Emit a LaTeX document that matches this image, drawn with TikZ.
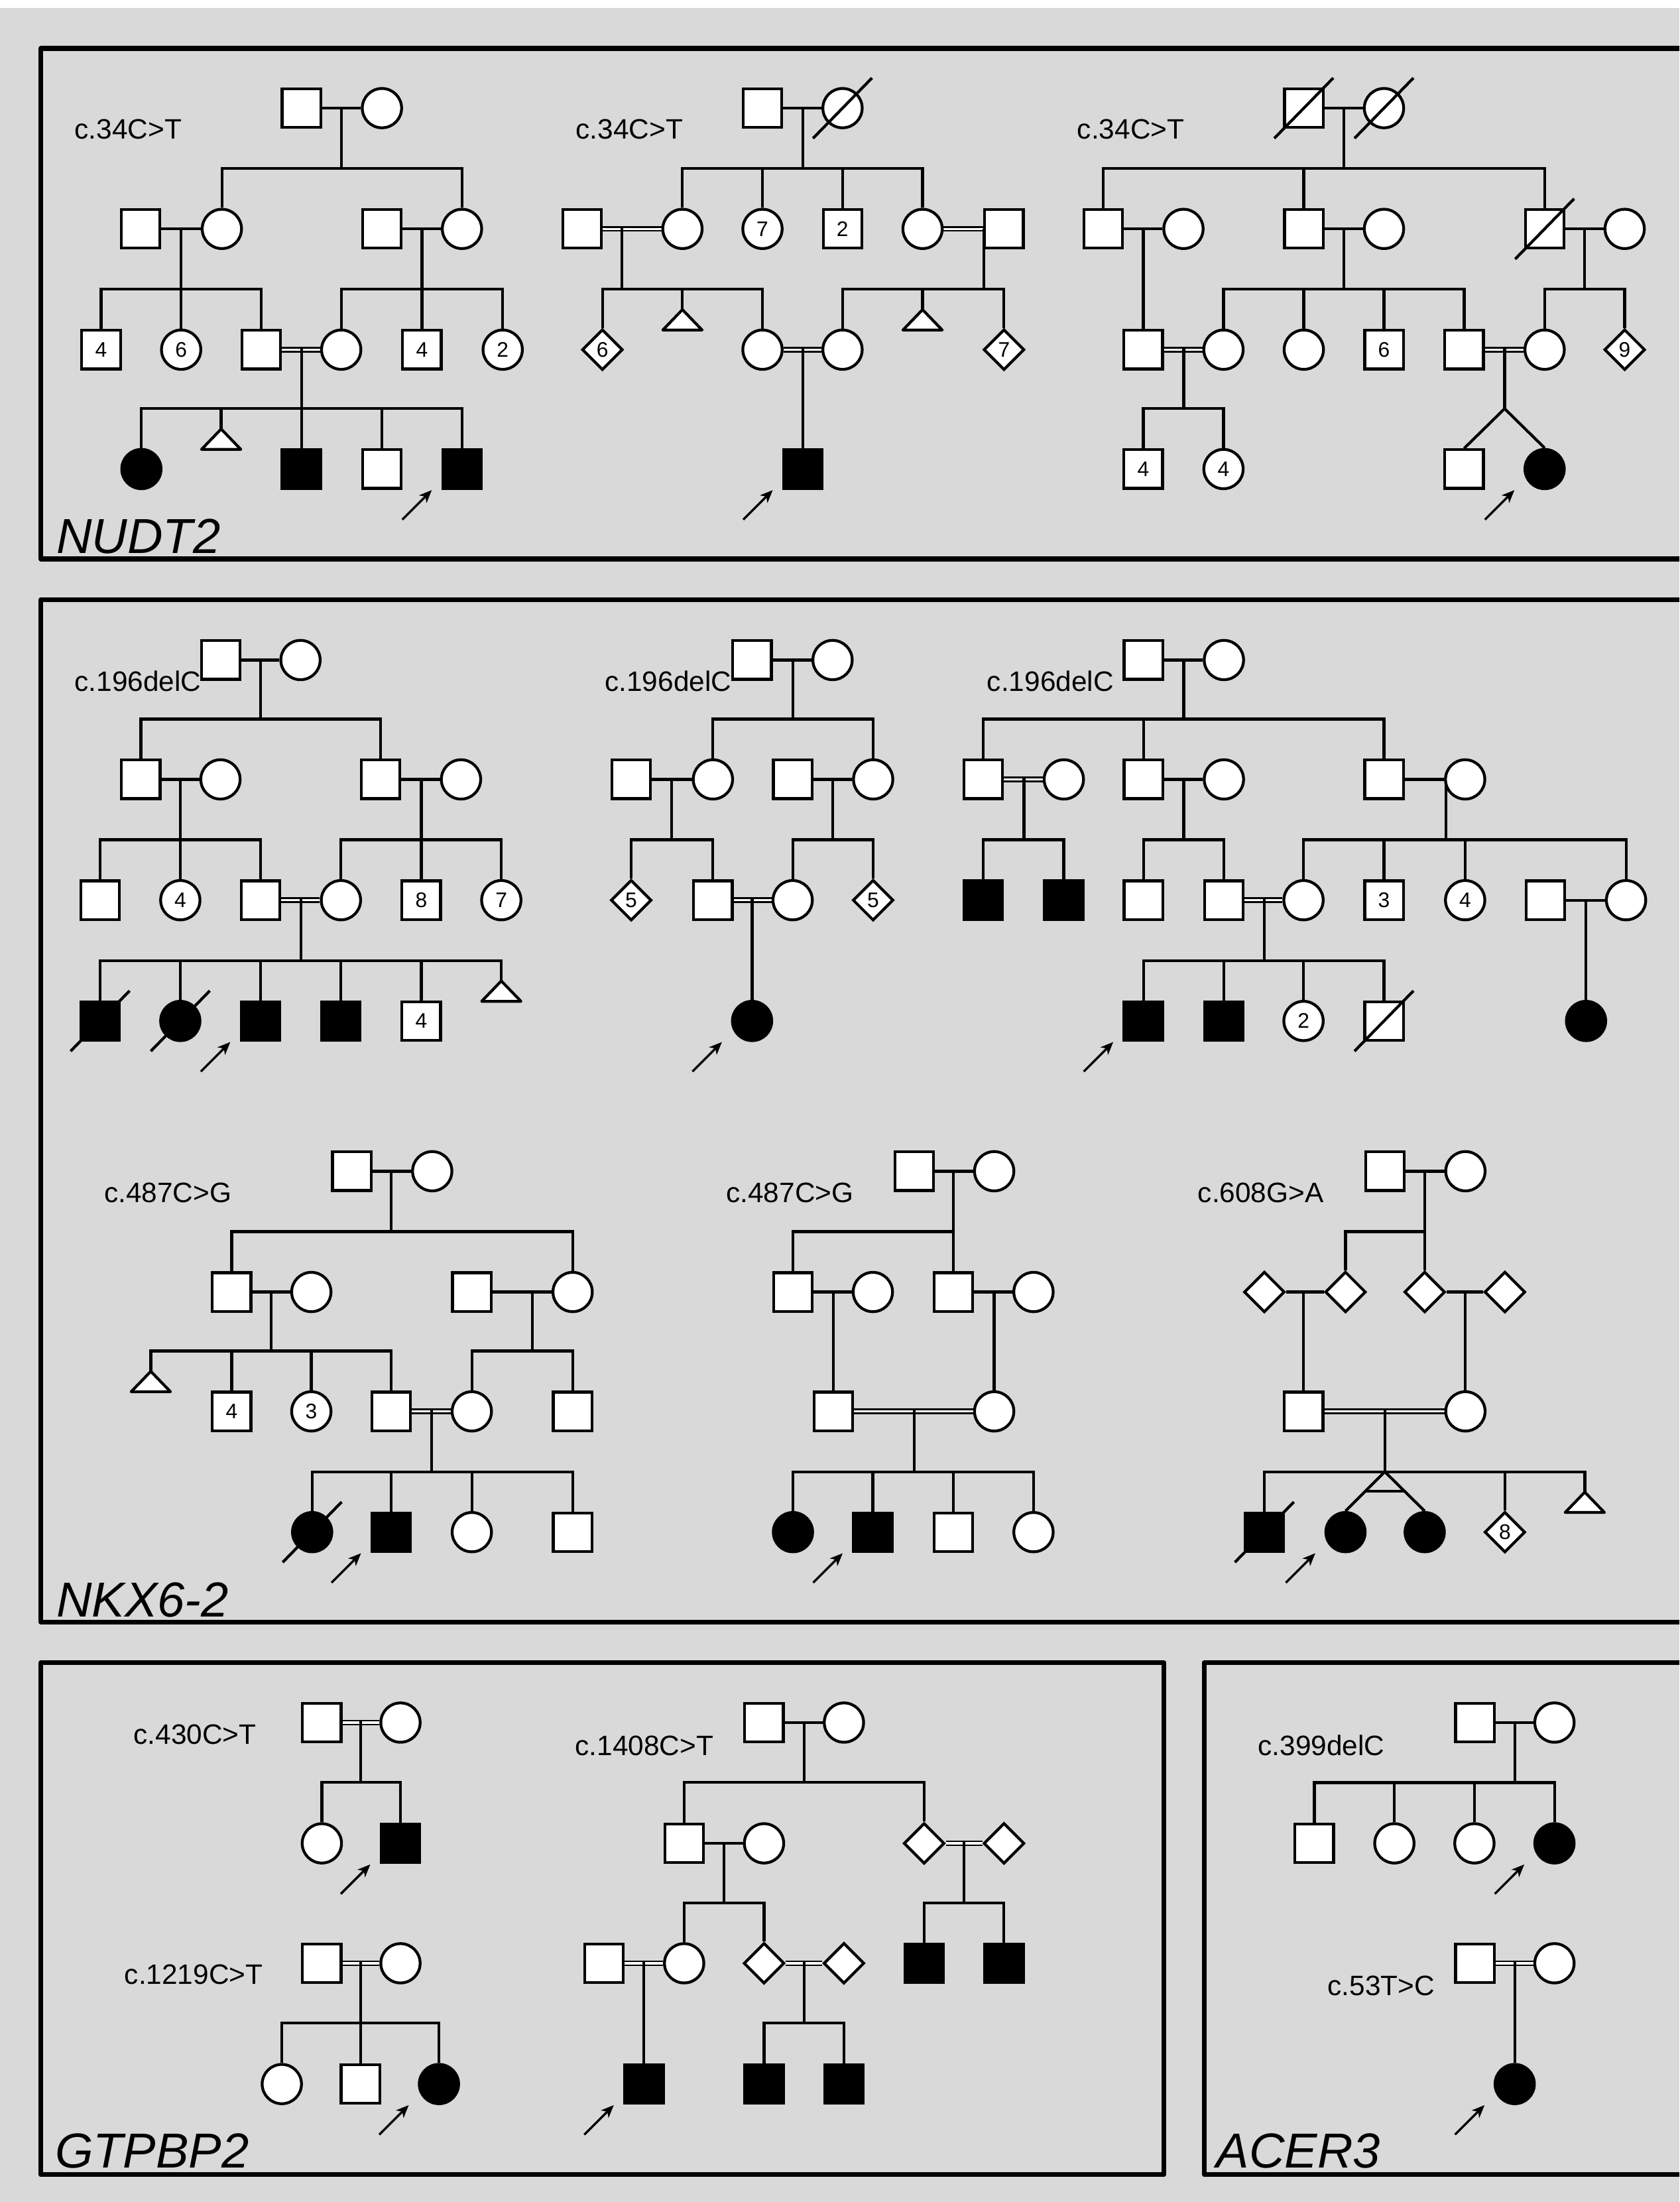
\documentclass[tikz,border=0pt]{standalone}
\usepackage{fontspec}
\setmainfont{Liberation Sans}
\usetikzlibrary{calc,arrows.meta,shapes.geometric}
\pgfdeclarelayer{back}
\pgfdeclarelayer{bg}
\pgfsetlayers{back,bg,main}
\definecolor{panelgray}{RGB}{217,217,217}
\tikzset{
  pl/.style={line width=2.0pt},
  ind/.style={draw, line width=2.0pt, fill=white, inner sep=0pt, font=\fontsize{15}{17}\selectfont},
  sq/.style={ind, rectangle, minimum size=27.5pt},
  ci/.style={ind, circle, minimum size=28pt},
  di/.style={ind, diamond, minimum size=29pt},
  aff/.style={fill=black},
  dbl/.style={line width=1.2pt, double=white, double distance=1.6pt},
  arr/.style={line width=1.6pt, -{Stealth[length=9pt,width=7.5pt,inset=2.5pt]}},
  mut/.style={anchor=base west, inner sep=0pt, font=\fontsize{20}{24}\selectfont},
  gene/.style={anchor=base west, inner sep=0pt, font=\fontsize{35}{40}\selectfont\itshape},
  border/.style={line width=3.4pt, line join=round},
  tristyle/.style={line width=2.0pt, fill=white, line join=round},
  decl/.style={line width=2.0pt},
}
\newcommand{\dropl}[4]{\coordinate (#1m) at (#2,#3); \coordinate (#1) at (#2,#4); \draw[pl] (#1m) -- (#1);}
\newcommand{\sibs}[2]{\foreach \c in {#2} {\draw[pl] (#1) -| (\c);}}
\newcommand{\pedtri}[2]{\coordinate (#1) at #2; \draw[tristyle] (#1) -- ++(14,14.5) -- ++(-28,0) -- cycle;}
\newcommand{\slashit}[1]{\draw[decl] ($(#1)+(-21,21.5)$) -- ($(#1)+(21,-21.5)$);}
\newcommand{\proband}[1]{\draw[arr] ($(#1)+(-42.5,36)$) -- ($(#1)+(-21.5,15)$);}
\begin{document}
\begin{tikzpicture}[x=1pt,y=-1pt]
\useasboundingbox (0,0) rectangle (1196,1568);
\begin{pgfonlayer}{back}
\fill[white] (0,0) rectangle (1196,1568);
\fill[panelgray] (0,5.5) rectangle (1196,1568);
\begin{scope}
\clip (0,0) rectangle (1196,1568);
\draw[border] (1215,34.5) -- (29,34.5) -- (29,398) -- (1215,398);
\draw[border] (1215,427) -- (29,427) -- (29,1155) -- (1215,1155);
\draw[border] (29,1184) rectangle (829,1548.5);
\draw[border] (1215,1184) -- (857.5,1184) -- (857.5,1548.5) -- (1215,1548.5);
\end{scope}
\end{pgfonlayer}

% ================= NUDT2 =================
\node[gene] (gNUDT) at (40,394) {NUDT2};
% ---- family A
\node[mut] (Alab) at (53,99) {c.34C>T};
\node[sq] (A1) at (214.7,77) {};
\node[ci] (A2) at (272,77) {};
\node[sq] (A3) at (100,163) {};
\node[ci] (A4) at (158,163) {};
\node[sq] (A5) at (272,163) {};
\node[ci] (A6) at (329,163) {};
\node[sq] (A7) at (72,249) {4};
\node[ci] (A8) at (129,249) {6};
\node[sq] (A9) at (186,249) {};
\node[ci] (A10) at (243,249) {};
\node[sq] (A11) at (300.5,249) {4};
\node[ci] (A12) at (358,249) {2};
\node[ci,aff] (A13) at (100.7,334) {};
\pedtri{A14}{(157.5,305.5)}
\node[sq,aff] (A15) at (214.7,334) {};
\node[sq] (A16) at (272,334) {};
\node[sq,aff] (A17) at (329,334) {};
\begin{pgfonlayer}{bg}
\draw[pl] (A1) -- (A2); \dropl{As1}{243}{77}{120} \sibs{As1}{A4.north,A6.north}
\draw[pl] (A3) -- (A4); \dropl{As2}{129}{163}{206} \sibs{As2}{A7.north,A8.north,A9.north}
\draw[pl] (A5) -- (A6); \dropl{As3}{300.5}{163}{206} \sibs{As3}{A10.north,A11.north,A12.north}
\draw[dbl] (A9) -- (A10); \dropl{As4}{214.7}{247}{291} \sibs{As4}{A13.north,A14,A15.north,A16.north,A17.north}
\end{pgfonlayer}
\proband{A17}
% ---- family B
\node[mut] (Blab) at (410,99) {c.34C>T};
\node[sq] (B1) at (543,77) {};
\node[ci] (B2) at (600,77) {};
\node[sq] (B3) at (414.6,163) {};
\node[ci] (B4) at (486,163) {};
\node[ci] (B5) at (543,163) {7};
\node[sq] (B6) at (600,163) {2};
\node[ci] (B7) at (657,163) {};
\node[sq] (B8) at (715,163) {};
\node[di] (B9) at (429,249) {6};
\pedtri{B10}{(486,220.5)}
\node[ci] (B11) at (543,249) {};
\node[ci] (B12) at (600,249) {};
\pedtri{B13}{(657,220.5)}
\node[di] (B14) at (715,249) {7};
\node[sq,aff] (B15) at (571.8,334) {};
\begin{pgfonlayer}{bg}
\draw[pl] (B1) -- (B2); \dropl{Bs1}{571.8}{77}{120} \sibs{Bs1}{B4.north,B5.north,B6.north,B7.north}
\draw[dbl] (B3) -- (B4); \dropl{Bs2}{443}{161}{206} \sibs{Bs2}{B9.north,B10,B11.north}
\draw[dbl] (B7) -- (B8); \dropl{Bs3}{700.7}{163}{206} \sibs{Bs3}{B12.north,B13,B14.north}
\draw[dbl] (B11) -- (B12); \coordinate (Bm4) at (571.8,247); \draw[pl] (Bm4) -- (B15.north);
\end{pgfonlayer}
\slashit{B2}
\proband{B15}
% ---- family C
\node[mut] (Clab) at (767,99) {c.34C>T};
\node[sq] (C1) at (928.5,77) {};
\node[ci] (C2) at (985.6,77) {};
\node[sq] (C3) at (785.7,163) {};
\node[ci] (C4) at (842.8,163) {};
\node[sq] (C5) at (928.5,163) {};
\node[ci] (C6) at (985.6,163) {};
\node[sq] (C7) at (1100,163) {};
\node[ci] (C8) at (1157,163) {};
\node[sq] (C9) at (814.2,249) {};
\node[ci] (C10) at (871.3,249) {};
\node[ci] (C11) at (928.5,249) {};
\node[sq] (C12) at (985.6,249) {6};
\node[sq] (C13) at (1042.7,249) {};
\node[ci] (C14) at (1100,249) {};
\node[di] (C15) at (1157,249) {9};
\node[sq] (C16) at (814.2,334) {4};
\node[ci] (C17) at (871.3,334) {4};
\node[sq] (C18) at (1042.7,334) {};
\node[ci,aff] (C19) at (1100,334) {};
\begin{pgfonlayer}{bg}
\draw[pl] (C1) -- (C2); \dropl{Cs1}{957}{77}{120} \sibs{Cs1}{C3.north,C5.north,C7.north}
\draw[pl] (C3) -- (C4); \coordinate (Cm2) at (814.2,163); \draw[pl] (Cm2) -- (C9.north);
\draw[pl] (C5) -- (C6); \dropl{Cs3}{957}{163}{206} \sibs{Cs3}{C10.north,C11.north,C12.north,C13.north}
\draw[pl] (C7) -- (C8); \dropl{Cs4}{1128.5}{163}{206} \sibs{Cs4}{C14.north,C15.north}
\draw[dbl] (C9) -- (C10); \dropl{Cs5}{843}{247}{291} \sibs{Cs5}{C16.north,C17.north}
\draw[dbl] (C13) -- (C14); \dropl{Cs6}{1071.5}{247}{291}
\draw[pl] (Cs6) -- (C18.north); \draw[pl] (Cs6) -- (C19.north);
\end{pgfonlayer}
\slashit{C1} \slashit{C2} \slashit{C7}
\proband{C19}

% ================= NKX6-2 =================
\node[gene] (gNKX) at (40,1151.5) {NKX6-2};
% ---- family D
\node[mut] (Dlab) at (53,492) {c.196delC};
\node[sq] (D1) at (157.3,470) {};
\node[ci] (D2) at (214,470) {};
\node[sq] (D3) at (100.3,555) {};
\node[ci] (D4) at (157,555) {};
\node[sq] (D5) at (271,555) {};
\node[ci] (D6) at (328.3,555) {};
\node[sq] (D7) at (71.3,641) {};
\node[ci] (D8) at (128.4,641) {4};
\node[sq] (D9) at (185.5,641) {};
\node[ci] (D10) at (242.8,641) {};
\node[sq] (D11) at (300,641) {8};
\node[ci] (D12) at (357,641) {7};
\node[sq,aff] (D13) at (71.3,727) {};
\node[ci,aff] (D14) at (128.4,727) {};
\node[sq,aff] (D15) at (185.5,727) {};
\node[sq,aff] (D16) at (242.8,727) {};
\node[sq] (D17) at (300,727) {4};
\pedtri{D18}{(357,698.5)}
\begin{pgfonlayer}{bg}
\draw[pl] (D1) -- (D2); \dropl{Ds1}{185.5}{470}{512} \sibs{Ds1}{D3.north,D5.north}
\draw[pl] (D3) -- (D4); \dropl{Ds2}{128.4}{555}{598} \sibs{Ds2}{D7.north,D8.north,D9.north}
\draw[pl] (D5) -- (D6); \dropl{Ds3}{300}{555}{598} \sibs{Ds3}{D10.north,D11.north,D12.north}
\draw[dbl] (D9) -- (D10); \dropl{Ds4}{214.4}{639}{684} \sibs{Ds4}{D13.north,D14.north,D15.north,D16.north,D17.north,D18}
\end{pgfonlayer}
\slashit{D13} \slashit{D14}
\proband{D15}
% ---- family E
\node[mut] (Elab) at (430.6,492) {c.196delC};
\node[sq] (E1) at (535.6,470) {};
\node[ci] (E2) at (592.9,470) {};
\node[sq] (E3) at (449.5,555) {};
\node[ci] (E4) at (507.7,555) {};
\node[sq] (E5) at (564.5,555) {};
\node[ci] (E6) at (621.8,555) {};
\node[di] (E7) at (449.5,641) {5};
\node[sq] (E8) at (507.7,641) {};
\node[ci] (E9) at (564.5,641) {};
\node[di] (E10) at (621.8,641) {5};
\node[ci,aff] (E11) at (535.6,727) {};
\begin{pgfonlayer}{bg}
\draw[pl] (E1) -- (E2); \dropl{Es1}{564.5}{470}{512} \sibs{Es1}{E4.north,E6.north}
\draw[pl] (E3) -- (E4); \dropl{Es2}{478.4}{555}{598} \sibs{Es2}{E7.north,E8.north}
\draw[pl] (E5) -- (E6); \dropl{Es3}{593}{555}{598} \sibs{Es3}{E9.north,E10.north}
\draw[dbl] (E8) -- (E9); \coordinate (Em4) at (535.6,639); \draw[pl] (Em4) -- (E11.north);
\end{pgfonlayer}
\proband{E11}
% ---- family F
\node[mut] (Flab) at (702.8,492) {c.196delC};
\node[sq] (F1) at (814.3,470) {};
\node[ci] (F2) at (871.6,470) {};
\node[sq] (F3) at (700.2,555) {};
\node[ci] (F4) at (757.6,555) {};
\node[sq] (F5) at (814.3,555) {};
\node[ci] (F6) at (871.6,555) {};
\node[sq] (F7) at (985.6,555) {};
\node[ci] (F8) at (1043.4,555) {};
\node[sq,aff] (F9) at (700.2,641) {};
\node[sq,aff] (F10) at (757.6,641) {};
\node[sq] (F11) at (814.3,641) {};
\node[sq] (F12) at (871.6,641) {};
\node[ci] (F13) at (928.3,641) {};
\node[sq] (F14) at (985.6,641) {3};
\node[ci] (F15) at (1043.4,641) {4};
\node[ci] (F16) at (1158,641) {};
\node[sq] (F17) at (1100.6,641) {};
\node[sq,aff] (F18) at (814.3,727) {};
\node[sq,aff] (F19) at (871.6,727) {};
\node[ci] (F20) at (928.3,727) {2};
\node[sq] (F21) at (985.6,727) {};
\node[ci,aff] (F22) at (1129.5,727) {};
\begin{pgfonlayer}{bg}
\draw[pl] (F1) -- (F2); \dropl{Fs1}{843}{470}{512} \sibs{Fs1}{F3.north,F5.north,F7.north}
\draw[dbl] (F3) -- (F4); \dropl{Fs2}{729.2}{553}{598} \sibs{Fs2}{F9.north,F10.north}
\draw[pl] (F5) -- (F6); \dropl{Fs3}{843}{555}{598} \sibs{Fs3}{F11.north,F12.north}
\draw[pl] (F7) -- (F8); \dropl{Fs4}{1029.7}{555}{598} \sibs{Fs4}{F13.north,F14.north,F15.north,F16.north}
\draw[dbl] (F12) -- (F13); \dropl{Fs5}{900.4}{639}{684} \sibs{Fs5}{F18.north,F19.north,F20.north,F21.north}
\draw[pl] (F17) -- (F16); \coordinate (Fm6) at (1129.5,641); \draw[pl] (Fm6) -- (F22.north);
\end{pgfonlayer}
\slashit{F21}
\proband{F18}
% ---- family G
\node[mut] (Glab) at (74,856) {c.487C>G};
\node[sq] (G1) at (250.5,834) {};
\node[ci] (G2) at (307.8,834) {};
\node[sq] (G3) at (165,920) {};
\node[ci] (G4) at (221.7,920) {};
\node[sq] (G5) at (336,920) {};
\node[ci] (G6) at (407.8,920) {};
\pedtri{G7}{(107.4,976.5)}
\node[sq] (G8) at (165,1005) {4};
\node[ci] (G9) at (221.7,1005) {3};
\node[sq] (G10) at (278.6,1005) {};
\node[ci] (G11) at (336,1005) {};
\node[sq] (G12) at (407.8,1005) {};
\node[ci,aff] (G13) at (222.3,1091) {};
\node[sq,aff] (G14) at (278.6,1091) {};
\node[ci] (G15) at (336,1091) {};
\node[sq] (G16) at (407.8,1091) {};
\begin{pgfonlayer}{bg}
\draw[pl] (G1) -- (G2); \dropl{Gs1}{278.6}{834}{877} \sibs{Gs1}{G3.north,G6.north}
\draw[pl] (G3) -- (G4); \dropl{Gs2}{193}{920}{962} \sibs{Gs2}{G7,G8.north,G9.north,G10.north}
\draw[pl] (G5) -- (G6); \dropl{Gs3}{379}{920}{962} \sibs{Gs3}{G11.north,G12.north}
\draw[dbl] (G10) -- (G11); \dropl{Gs4}{307.5}{1003}{1048} \sibs{Gs4}{G13.north,G14.north,G15.north,G16.north}
\end{pgfonlayer}
\slashit{G13}
\proband{G14}
% ---- family H
\node[mut] (Hlab) at (517,856) {c.487C>G};
\node[sq] (H1) at (651,834) {};
\node[ci] (H2) at (708,834) {};
\node[sq] (H3) at (564.7,920) {};
\node[ci] (H4) at (621.6,920) {};
\node[sq] (H5) at (679,920) {};
\node[ci] (H6) at (736,920) {};
\node[sq] (H7) at (593.6,1005) {};
\node[ci] (H8) at (708,1005) {};
\node[ci,aff] (H9) at (564.7,1091) {};
\node[sq,aff] (H10) at (621.6,1091) {};
\node[sq] (H11) at (679,1091) {};
\node[ci] (H12) at (736,1091) {};
\begin{pgfonlayer}{bg}
\draw[pl] (H1) -- (H2); \dropl{Hs1}{679}{834}{877} \sibs{Hs1}{H3.north,H5.north}
\draw[pl] (H3) -- (H4); \coordinate (Hm2) at (593.6,920); \draw[pl] (Hm2) -- (H7.north);
\draw[pl] (H5) -- (H6); \coordinate (Hm3) at (708,920); \draw[pl] (Hm3) -- (H8.north);
\draw[dbl] (H7) -- (H8); \dropl{Hs4}{651}{1003}{1048} \sibs{Hs4}{H9.north,H10.north,H11.north,H12.north}
\end{pgfonlayer}
\proband{H10}
% ---- family K
\node[mut] (Klab) at (852.9,856) {c.608G>A};
\node[sq] (K1) at (986.2,834) {};
\node[ci] (K2) at (1043.6,834) {};
\node[di] (K3) at (900.4,920) {};
\node[di] (K4) at (958.2,920) {};
\node[di] (K5) at (1014.6,920) {};
\node[di] (K6) at (1071.7,920) {};
\node[sq] (K7) at (928.4,1005) {};
\node[ci] (K8) at (1043.6,1005) {};
\node[sq,aff] (K9) at (900.4,1091) {};
\node[ci,aff] (K10) at (958.2,1091) {};
\node[ci,aff] (K11) at (1014.6,1091) {};
\node[di] (K12) at (1071.7,1091) {8};
\pedtri{K13}{(1128.6,1062.5)}
\begin{pgfonlayer}{bg}
\draw[pl] (K1) -- (K2); \dropl{Ks1}{1014.6}{834}{877} \sibs{Ks1}{K4.north,K5.north}
\draw[pl] (K3) -- (K4); \coordinate (Km2) at (928.4,920); \draw[pl] (Km2) -- (K7.north);
\draw[pl] (K5) -- (K6); \coordinate (Km3) at (1043.6,920); \draw[pl] (Km3) -- (K8.north);
\draw[dbl] (K7) -- (K8); \dropl{Ks4}{986.2}{1003}{1048} \sibs{Ks4}{K9.north,K12.north,K13}
\draw[pl] (Ks4) -- (K10.north); \draw[pl] (Ks4) -- (K11.north);
\draw[pl] ($(Ks4)!0.5!(K10.north)$) -- ($(Ks4)!0.5!(K11.north)$);
\end{pgfonlayer}
\slashit{K9}
\proband{K10}

% ================= GTPBP2 =================
\node[gene] (gGTP) at (39,1543.5) {GTPBP2};
% ---- family L
\node[mut] (Llab) at (95,1242) {c.430C>T};
\node[sq] (L1) at (229.2,1226.6) {};
\node[ci] (L2) at (285.2,1226.6) {};
\node[ci] (L3) at (229.2,1312.6) {};
\node[sq,aff] (L4) at (285.2,1312.6) {};
\begin{pgfonlayer}{bg}
\draw[dbl] (L1) -- (L2); \dropl{Ls1}{256.7}{1224.6}{1269} \sibs{Ls1}{L3.north,L4.north}
\end{pgfonlayer}
\proband{L4}
% ---- family M
\node[mut] (Mlab) at (88.5,1413) {c.1219C>T};
\node[sq] (M1) at (229.2,1398) {};
\node[ci] (M2) at (285.2,1398) {};
\node[ci] (M3) at (200.7,1484) {};
\node[sq] (M4) at (256.7,1484) {};
\node[ci,aff] (M5) at (312.6,1484) {};
\begin{pgfonlayer}{bg}
\draw[dbl] (M1) -- (M2); \dropl{Ms1}{256.7}{1396}{1440.6} \sibs{Ms1}{M3.north,M4.north,M5.north}
\end{pgfonlayer}
\proband{M5}
% ---- family N
\node[mut] (Nlab) at (409.4,1250) {c.1408C>T};
\node[sq] (N1) at (544.1,1226.6) {};
\node[ci] (N2) at (601,1226.6) {};
\node[sq] (N3) at (487.2,1312.6) {};
\node[ci] (N4) at (544.1,1312.6) {};
\node[di] (N5) at (658.1,1312.6) {};
\node[di] (N6) at (715,1312.6) {};
\node[ci] (N7) at (487.2,1398) {};
\node[di] (N8) at (544.1,1398) {};
\node[sq,aff] (N9) at (658.1,1398) {};
\node[sq,aff] (N10) at (715,1398) {};
\node[sq] (N11) at (430,1398) {};
\node[di] (N12) at (601,1398) {};
\node[sq,aff] (N13) at (458.6,1484) {};
\node[sq,aff] (N14) at (544.1,1484) {};
\node[sq,aff] (N15) at (601,1484) {};
\begin{pgfonlayer}{bg}
\draw[pl] (N1) -- (N2); \dropl{Ns1}{572.6}{1226.6}{1269} \sibs{Ns1}{N3.north,N5.north}
\draw[pl] (N3) -- (N4); \dropl{Ns2}{515.6}{1312.6}{1355} \sibs{Ns2}{N7.north,N8.north}
\draw[dbl] (N5) -- (N6); \dropl{Ns3}{686.5}{1310.6}{1355} \sibs{Ns3}{N9.north,N10.north}
\draw[dbl] (N11) -- (N7); \coordinate (Nm4) at (458.6,1396); \draw[pl] (Nm4) -- (N13.north);
\draw[dbl] (N8) -- (N12); \dropl{Ns5}{572.6}{1396}{1440.6} \sibs{Ns5}{N14.north,N15.north}
\end{pgfonlayer}
\proband{N13}

% ================= ACER3 =================
\node[gene] (gACER) at (866,1543.5) {ACER3};
% ---- family P
\node[mut] (Plab) at (895.8,1250) {c.399delC};
\node[sq] (P1) at (1050.3,1226.6) {};
\node[ci] (P2) at (1107,1226.6) {};
\node[sq] (P3) at (936,1312.6) {};
\node[ci] (P4) at (993,1312.6) {};
\node[ci] (P5) at (1050,1312.6) {};
\node[ci,aff] (P6) at (1107,1312.6) {};
\begin{pgfonlayer}{bg}
\draw[pl] (P1) -- (P2); \dropl{Ps1}{1078.7}{1226.6}{1269.4} \sibs{Ps1}{P3.north,P4.north,P5.north,P6.north}
\end{pgfonlayer}
\proband{P6}
% ---- family Q
\node[mut] (Qlab) at (945.4,1421) {c.53T>C};
\node[sq] (Q1) at (1050.3,1398) {};
\node[ci] (Q2) at (1107,1398) {};
\node[ci,aff] (Q3) at (1078.7,1484) {};
\begin{pgfonlayer}{bg}
\draw[dbl] (Q1) -- (Q2); \coordinate (Qm1) at (1078.7,1396); \draw[pl] (Qm1) -- (Q3.north);
\end{pgfonlayer}
\proband{Q3}
\end{tikzpicture}
\end{document}
